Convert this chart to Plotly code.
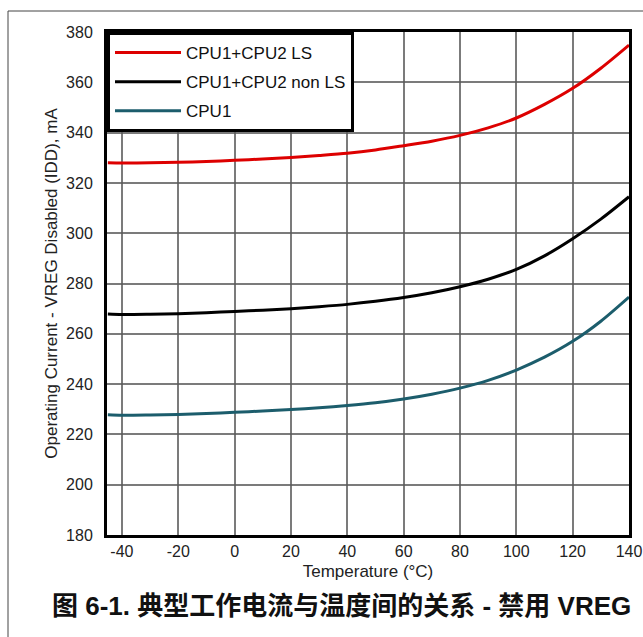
import plotly.graph_objects as go

# Operating current vs. temperature, VREG disabled
temperature_c = [-45, -40, -30, -20, -10, 0, 10, 20, 30, 40, 50, 60, 70, 80, 90, 100, 110, 120, 130, 140]

cpu12_ls_ma = [328.0, 327.9, 328.0, 328.2, 328.5, 329.0, 329.5, 330.1, 330.9, 331.8,
               333.1, 334.8, 336.6, 338.9, 341.9, 345.8, 351.2, 357.6, 365.6, 374.8]
cpu12_non_ls_ma = [267.9, 267.7, 267.8, 268.0, 268.4, 268.9, 269.4, 270.0, 270.8, 271.7,
                   272.9, 274.4, 276.3, 278.7, 281.7, 285.6, 291.0, 297.8, 305.6, 314.5]
cpu1_ma = [227.8, 227.6, 227.7, 227.9, 228.3, 228.8, 229.3, 229.9, 230.6, 231.5,
           232.6, 234.1, 236.0, 238.4, 241.5, 245.6, 250.7, 257.0, 265.0, 274.6]

series_names = ["CPU1+CPU2 LS", "CPU1+CPU2 non LS", "CPU1"]
series_colors = ["#dd0000", "#000000", "#1c5d6c"]
series_values = [cpu12_ls_ma, cpu12_non_ls_ma, cpu1_ma]

x_ticks = [-40, -20, 0, 20, 40, 60, 80, 100, 120, 140]
y_ticks = [180, 200, 220, 240, 260, 280, 300, 320, 340, 360, 380]

caption = "图 6-1. 典型工作电流与温度间的关系 - 禁用 VREG"

W, H = 643, 637
ML, MR, MT, MB = 107, 14, 32, 102

fig = go.Figure()
for i, (name, color, vals) in enumerate(zip(series_names, series_colors, series_values)):
    fig.add_trace(go.Scatter(
        x=temperature_c, y=vals, name=name, mode="lines",
        line=dict(color=color, width=3, shape="spline", smoothing=0.8),
        legendgroup=f"g{i}",
    ))

font_main = "Liberation Sans, Arial, sans-serif"
grid_col = "rgba(90,90,90,0.8)"

fig.update_xaxes(
    range=[-45.3, 140], tickvals=x_ticks, ticktext=[str(v) for v in x_ticks],
    ticks="", showgrid=True, automargin=False,
    gridcolor=grid_col, gridwidth=1.5, zeroline=False,
    showline=True, linecolor="black", linewidth=3, mirror=True,
    tickfont=dict(family=font_main, size=16, color="#222"),
    title=dict(text="Temperature (°C)", standoff=6,
               font=dict(family=font_main, size=17, color="#222")),
)
fig.update_yaxes(
    range=[180, 380], tickvals=y_ticks, ticks="", showgrid=True, automargin=False,
    gridcolor=grid_col, gridwidth=1.5, zeroline=False, ticklabelstandoff=8,
    showline=True, linecolor="black", linewidth=3, mirror=True,
    tickfont=dict(family=font_main, size=16, color="#222"),
    title=dict(text="Operating Current - VREG Disabled (IDD), mA", standoff=5,
               font=dict(family=font_main, size=17, color="#222")),
)

ph = H - MT - MB
pw = W - ML - MR

# outer frame around the figure
fig.add_shape(type="rect", xref="paper", yref="paper",
              x0=(8 - ML) / pw, x1=(660 - ML) / pw,
              y0=(H - MB - 660) / ph, y1=(H - MB - 11) / ph,
              line=dict(color="#444", width=1), fillcolor="rgba(0,0,0,0)", layer="below")

fig.add_annotation(
    text=f"<b>{caption}</b>", xref="paper", yref="paper",
    x=(341 - ML) / pw, y=(H - MB - 606) / ph, xanchor="center", yanchor="middle",
    showarrow=False,
    font=dict(family="Liberation Sans, Noto Sans CJK SC, sans-serif", size=26, color="#111"),
)

fig.update_layout(
    width=W, height=H,
    margin=dict(l=ML, r=MR, t=MT, b=MB, autoexpand=False),
    plot_bgcolor="white", paper_bgcolor="white",
    showlegend=True,
    legend=dict(
        x=0, y=1, xanchor="left", yanchor="top",
        bgcolor="white", bordercolor="black", borderwidth=3,
        font=dict(family=font_main, size=17, color="#111"),
        tracegroupgap=4, itemwidth=66,
    ),
)

fig.write_html("out.html")
